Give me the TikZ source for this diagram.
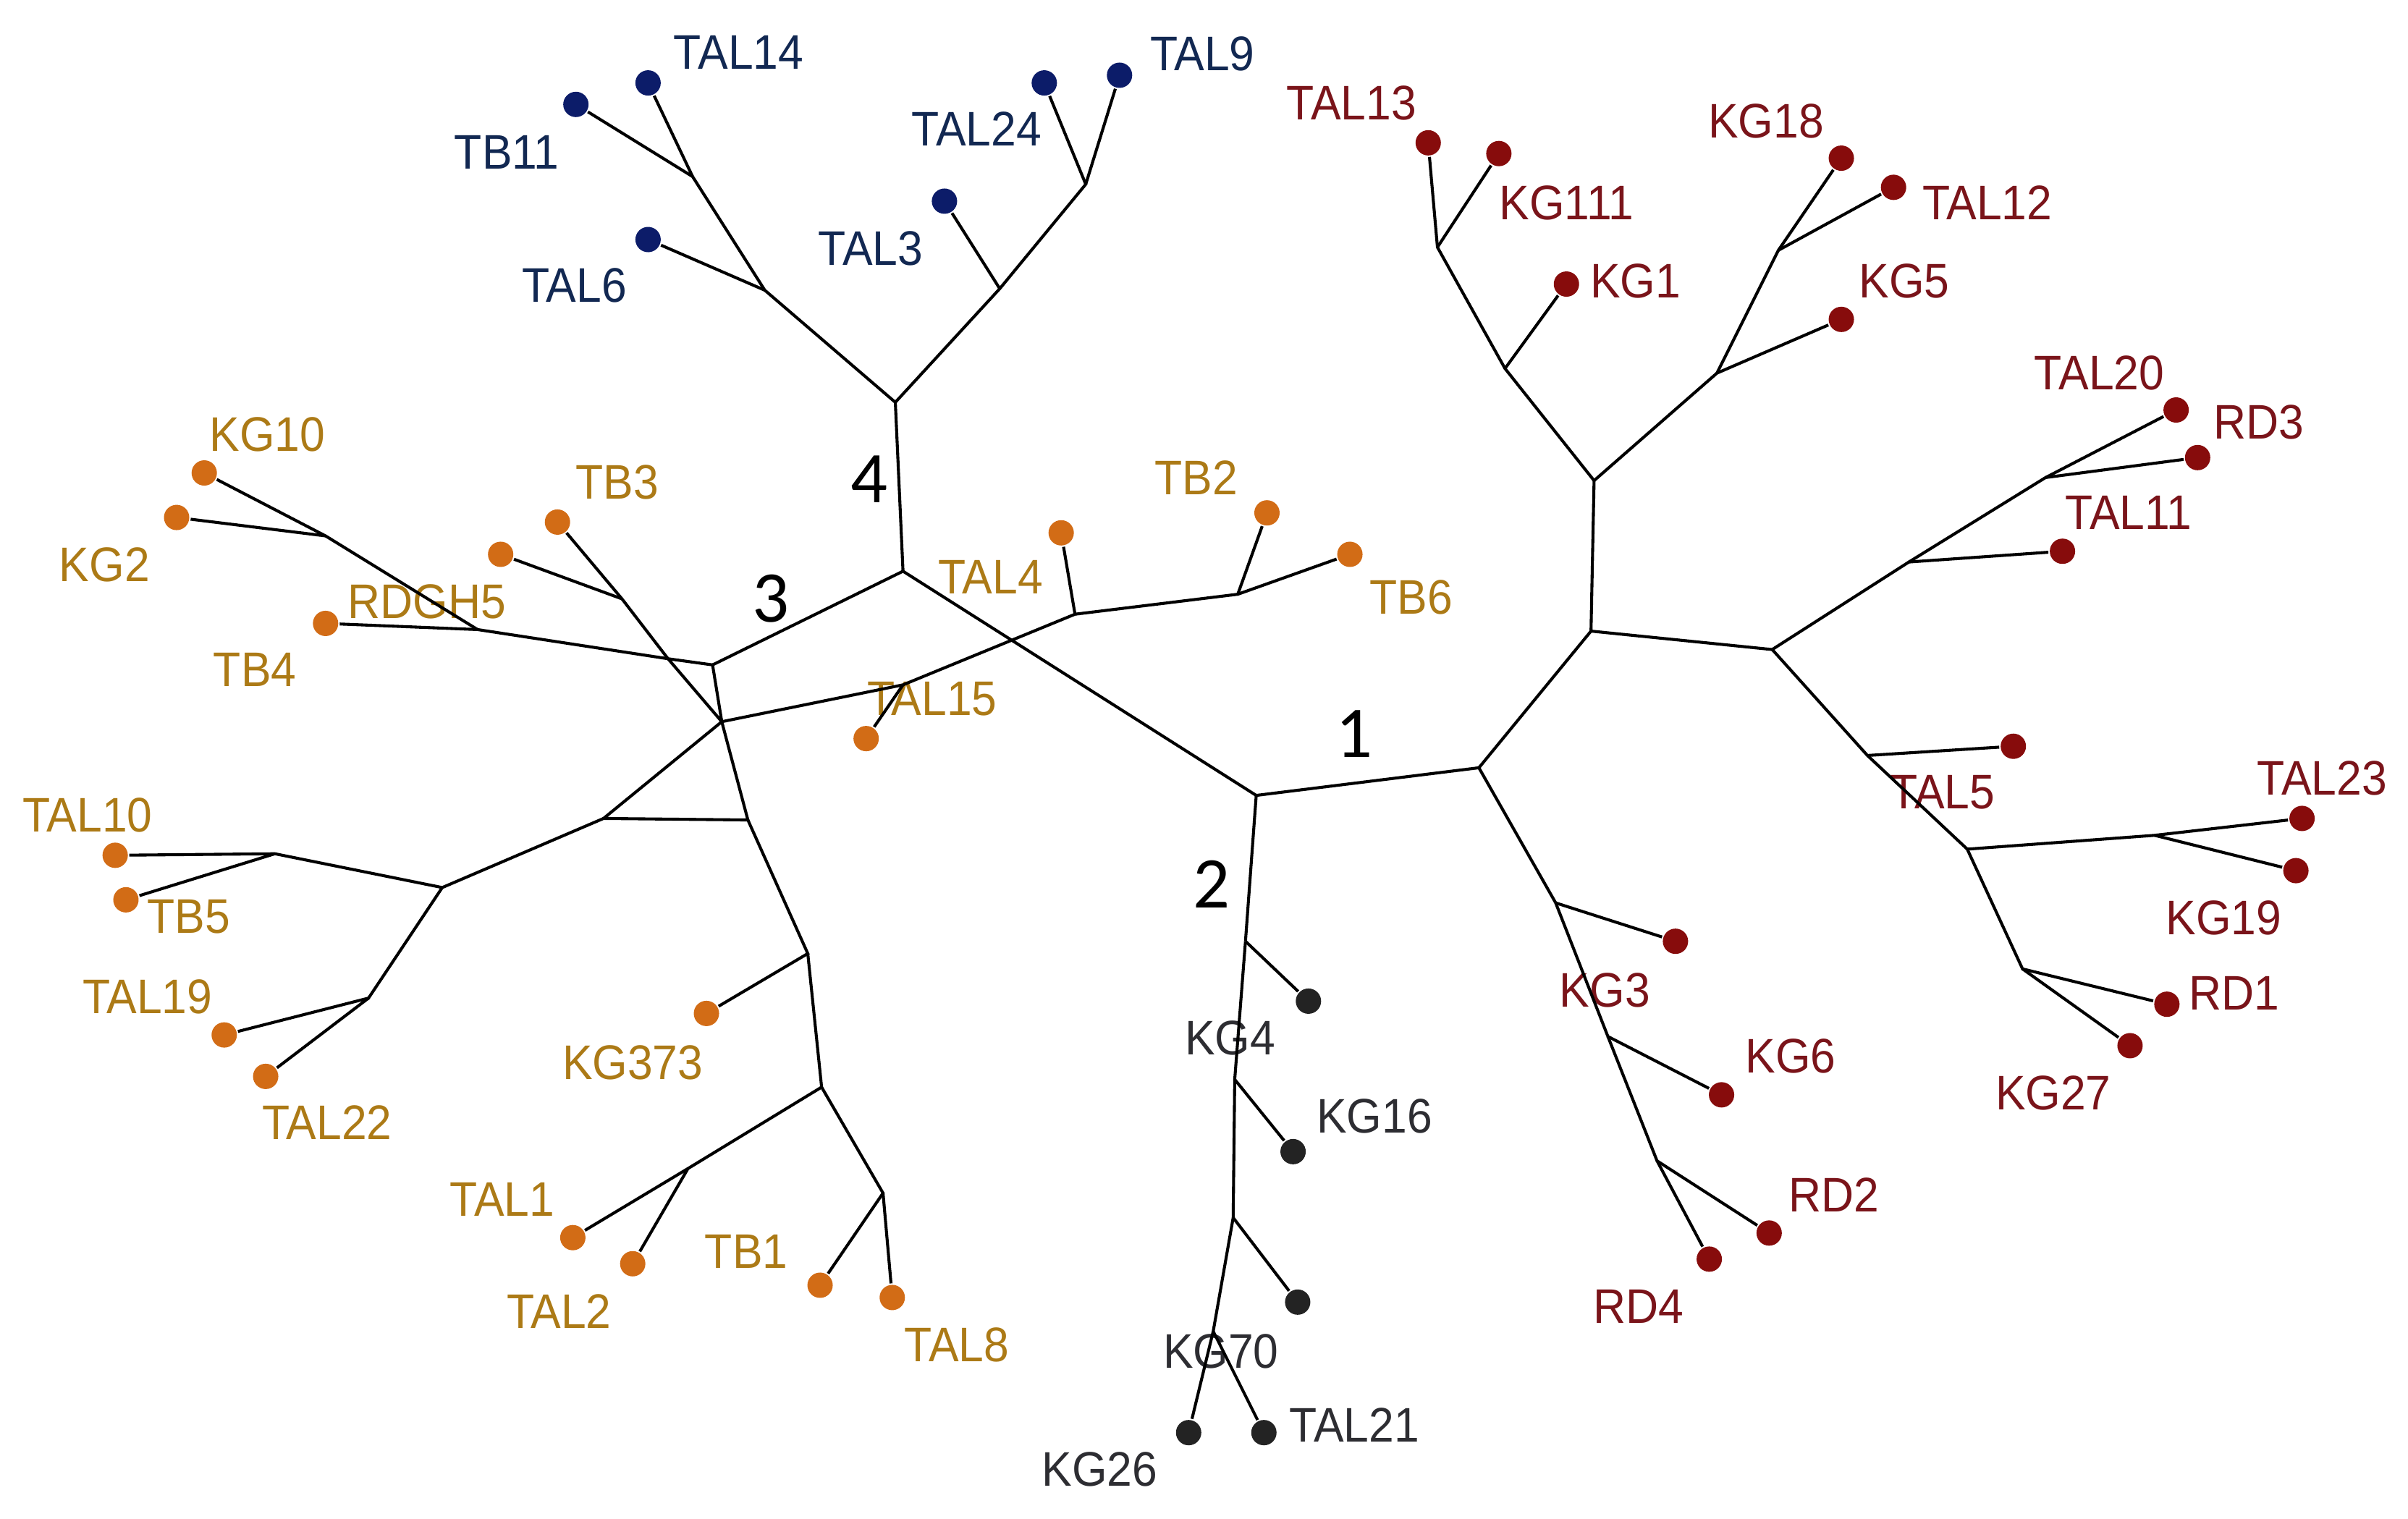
\documentclass[tikz,border=0pt]{standalone}
\usepackage{fontspec}
\setmainfont{Liberation Sans}[FakeStretch=0.93]
\newfontfamily\numfont{Carlito}

\definecolor{bluedot}{RGB}{12,28,105}
\definecolor{bluetxt}{RGB}{18,40,82}
\definecolor{reddot}{RGB}{135,12,12}
\definecolor{redtxt}{RGB}{122,20,26}
\definecolor{orgdot}{RGB}{210,108,22}
\definecolor{orgtxt}{RGB}{172,122,22}
\definecolor{greydot}{RGB}{35,35,35}
\definecolor{greytxt}{RGB}{45,45,50}

\begin{document}
\begin{tikzpicture}[x=0.1mm,y=-0.1mm,line width=0.55pt,
	leaf/.style={circle,inner sep=0pt,minimum size=1.65mm},
	bleaf/.style={leaf,fill=bluedot},
	rleaf/.style={leaf,fill=reddot},
	oleaf/.style={leaf,fill=orgdot},
	gleaf/.style={leaf,fill=greydot},
	lab/.style={inner sep=0pt,font=\fontsize{9}{10}\selectfont},
	blab/.style={lab,text=bluetxt},
	rlab/.style={lab,text=redtxt},
	olab/.style={lab,text=orgtxt},
	glab/.style={lab,text=greytxt},
	num/.style={inner sep=0pt,font=\numfont\fontsize{13.5}{15}\selectfont}]

	%Frame
	\useasboundingbox (0,0) rectangle (1568,989);

	%Backbone
	\coordinate (c1) at (818,518);
	\coordinate (c2) at (963,500);
	\coordinate (c3) at (588,372);
	\coordinate (c4) at (583,262);
	\node[num] (n1) at (882,478) {1};
	\node[num] (n2) at (789,576) {2};
	\node[num] (n3) at (502,390) {3};
	\node[num] (n4) at (566,312) {4};

	%Blue
	\coordinate (b1) at (498,189);
	\coordinate (b2) at (451,115);
	\coordinate (b3) at (651,188);
	\coordinate (b4) at (707,120);
	\node[bleaf] (TAL6) at (422,156) {};
	\node[bleaf] (TB11) at (375,68) {};
	\node[bleaf] (TAL14) at (422,54) {};
	\node[bleaf] (TAL3) at (615,131) {};
	\node[bleaf] (TAL24) at (680,54) {};
	\node[bleaf] (TAL9) at (729,49) {};
	\node[blab] (TAL6lab) at (374,186) {TAL6};
	\node[blab] (TB11lab) at (330,99) {TB11};
	\node[blab] (TAL14lab) at (481,34) {TAL14};
	\node[blab] (TAL3lab) at (567,162) {TAL3};
	\node[blab] (TAL24lab) at (636,84) {TAL24};
	\node[blab] (TAL9lab) at (783,35) {TAL9};

	%Orange
	\coordinate (o1) at (464,433);
	\coordinate (oB) at (435,429);
	\coordinate (oC) at (470,470);
	\coordinate (oD) at (405,390);
	\coordinate (oT) at (311,410);
	\coordinate (oK) at (212,349);
	\coordinate (oG) at (588,446);
	\coordinate (oH) at (700,400);
	\coordinate (oI) at (806,387);
	\coordinate (oE) at (393,533);
	\coordinate (oF) at (487,534);
	\coordinate (oL) at (288,578);
	\coordinate (oM) at (179,556);
	\coordinate (oN) at (240,650);
	\coordinate (oS) at (526,621);
	\coordinate (oP) at (535,708);
	\coordinate (oQ) at (448,761);
	\coordinate (oR) at (575,777);
	\node[oleaf] (KG10) at (133,308) {};
	\node[oleaf] (KG2) at (115,337) {};
	\node[oleaf] (TB4) at (212,406) {};
	\node[oleaf] (RDGH5) at (326,361) {};
	\node[oleaf] (TB3) at (363,340) {};
	\node[oleaf] (TAL15) at (564,481) {};
	\node[oleaf] (TAL4) at (691,347) {};
	\node[oleaf] (TB2) at (825,334) {};
	\node[oleaf] (TB6) at (879,361) {};
	\node[oleaf] (TAL10) at (75,557) {};
	\node[oleaf] (TB5) at (82,586) {};
	\node[oleaf] (TAL19) at (146,674) {};
	\node[oleaf] (TAL22) at (173,701) {};
	\node[oleaf] (KG373) at (460,660) {};
	\node[oleaf] (TAL1) at (373,806) {};
	\node[oleaf] (TAL2) at (412,823) {};
	\node[oleaf] (TB1) at (534,837) {};
	\node[oleaf] (TAL8) at (581,845) {};
	\node[olab] (KG10lab) at (174,283) {KG10};
	\node[olab] (KG2lab) at (68,368) {KG2};
	\node[olab] (TB4lab) at (166,436) {TB4};
	\node[olab] (RDGH5lab) at (278,392) {RDGH5};
	\node[olab] (TB3lab) at (402,314) {TB3};
	\node[olab] (TAL15lab) at (607,455) {TAL15};
	\node[olab] (TAL4lab) at (645,376) {TAL4};
	\node[olab] (TB2lab) at (779,311) {TB2};
	\node[olab] (TB6lab) at (919,389) {TB6};
	\node[olab] (TAL10lab) at (57,531) {TAL10};
	\node[olab] (TB5lab) at (123,597) {TB5};
	\node[olab] (TAL19lab) at (96,649) {TAL19};
	\node[olab] (TAL22lab) at (213,731) {TAL22};
	\node[olab] (KG373lab) at (412,692) {KG373};
	\node[olab] (TAL1lab) at (327,781) {TAL1};
	\node[olab] (TAL2lab) at (364,854) {TAL2};
	\node[olab] (TB1lab) at (486,815) {TB1};
	\node[olab] (TAL8lab) at (623,876) {TAL8};

	%Grey
	\coordinate (g1) at (811,613);
	\coordinate (g2) at (804,703);
	\coordinate (g3) at (803,793);
	\coordinate (g4) at (790,867);
	\node[gleaf] (KG4) at (852,652) {};
	\node[gleaf] (KG16) at (842,750) {};
	\node[gleaf] (KG70) at (845,848) {};
	\node[gleaf] (KG26) at (774,933) {};
	\node[gleaf] (TAL21) at (823,933) {};
	\node[glab] (KG4lab) at (801,676) {KG4};
	\node[glab] (KG16lab) at (895,727) {KG16};
	\node[glab] (KG70lab) at (795,880) {KG70};
	\node[glab] (KG26lab) at (716,957) {KG26};
	\node[glab] (TAL21lab) at (882,928) {TAL21};

	%Red
	\coordinate (r1) at (1036,411);
	\coordinate (r2) at (1038,313);
	\coordinate (r3) at (1154,423);
	\coordinate (r5) at (980,240);
	\coordinate (r6) at (936,161);
	\coordinate (r7) at (1118,243);
	\coordinate (r8) at (1158,163);
	\coordinate (r9) at (1243,366);
	\coordinate (r10) at (1332,311);
	\coordinate (r11) at (1216,492);
	\coordinate (r12) at (1281,553);
	\coordinate (r13) at (1403,544);
	\coordinate (r14) at (1317,631);
	\coordinate (s1) at (1013,588);
	\coordinate (s2) at (1047,675);
	\coordinate (s3) at (1079,756);
	\node[rleaf] (TAL13) at (930,93) {};
	\node[rleaf] (KG111) at (976,100) {};
	\node[rleaf] (KG1) at (1020,185) {};
	\node[rleaf] (KG18) at (1199,103) {};
	\node[rleaf] (TAL12) at (1233,122) {};
	\node[rleaf] (KG5) at (1199,208) {};
	\node[rleaf] (TAL20) at (1417,267) {};
	\node[rleaf] (RD3) at (1431,298) {};
	\node[rleaf] (TAL11) at (1343,359) {};
	\node[rleaf] (TAL5) at (1311,486) {};
	\node[rleaf] (TAL23) at (1499,533) {};
	\node[rleaf] (KG19) at (1495,567) {};
	\node[rleaf] (RD1) at (1411,654) {};
	\node[rleaf] (KG27) at (1387,681) {};
	\node[rleaf] (KG3) at (1091,613) {};
	\node[rleaf] (KG6) at (1121,713) {};
	\node[rleaf] (RD2) at (1152,803) {};
	\node[rleaf] (RD4) at (1113,820) {};
	\node[rlab] (TAL13lab) at (880,67) {TAL13};
	\node[rlab] (KG111lab) at (1020,132) {KG111};
	\node[rlab] (KG1lab) at (1065,183) {KG1};
	\node[rlab] (KG18lab) at (1150,79) {KG18};
	\node[rlab] (TAL12lab) at (1294,132) {TAL12};
	\node[rlab] (KG5lab) at (1240,183) {KG5};
	\node[rlab] (TAL20lab) at (1367,243) {TAL20};
	\node[rlab] (RD3lab) at (1471,275) {RD3};
	\node[rlab] (TAL11lab) at (1386,334) {TAL11};
	\node[rlab] (TAL5lab) at (1265,516) {TAL5};
	\node[rlab] (TAL23lab) at (1512,507) {TAL23};
	\node[rlab] (KG19lab) at (1448,598) {KG19};
	\node[rlab] (RD1lab) at (1455,647) {RD1};
	\node[rlab] (KG27lab) at (1337,712) {KG27};
	\node[rlab] (KG3lab) at (1045,645) {KG3};
	\node[rlab] (KG6lab) at (1166,688) {KG6};
	\node[rlab] (RD2lab) at (1194,778) {RD2};
	\node[rlab] (RD4lab) at (1067,851) {RD4};

	%Edges
	\draw (c1) -- (c2);
	\draw (c1) -- (c3);
	\draw (c1) -- (g1);
	\draw (c3) -- (c4);
	\draw (c3) -- (o1);
	\draw (c2) -- (r1);
	\draw (c2) -- (s1);

	%Blue edges
	\draw (c4) -- (b1) -- (b2) -- (TB11);
	\draw (b1) -- (TAL6);
	\draw (b2) -- (TAL14);
	\draw (c4) -- (b3) -- (b4) -- (TAL24);
	\draw (b3) -- (TAL3);
	\draw (b4) -- (TAL9);

	%Orange edges
	\draw (o1) -- (oB) -- (oC) -- (o1);
	\draw (oB) -- (oD) -- (TB3);
	\draw (oD) -- (RDGH5);
	\draw (oB) -- (oT) -- (TB4);
	\draw (oT) -- (oK) -- (KG10);
	\draw (oK) -- (KG2);
	\draw (oC) -- (oG) -- (oH) -- (oI) -- (TB6);
	\draw (oG) -- (TAL15);
	\draw (oH) -- (TAL4);
	\draw (oI) -- (TB2);
	\draw (oC) -- (oE) -- (oF) -- (oC);
	\draw (oE) -- (oL) -- (oM) -- (TAL10);
	\draw (oM) -- (TB5);
	\draw (oL) -- (oN) -- (TAL19);
	\draw (oN) -- (TAL22);
	\draw (oF) -- (oS) -- (KG373);
	\draw (oS) -- (oP) -- (oQ) -- (TAL1);
	\draw (oQ) -- (TAL2);
	\draw (oP) -- (oR) -- (TB1);
	\draw (oR) -- (TAL8);

	%Grey edges
	\draw (g1) -- (KG4);
	\draw (g1) -- (g2) -- (KG16);
	\draw (g2) -- (g3) -- (KG70);
	\draw (g3) -- (g4) -- (KG26);
	\draw (g4) -- (TAL21);

	%Red edges
	\draw (r1) -- (r2);
	\draw (r1) -- (r3);
	\draw (r2) -- (r5) -- (KG1);
	\draw (r5) -- (r6) -- (TAL13);
	\draw (r6) -- (KG111);
	\draw (r2) -- (r7) -- (KG5);
	\draw (r7) -- (r8) -- (KG18);
	\draw (r8) -- (TAL12);
	\draw (r3) -- (r9) -- (TAL11);
	\draw (r9) -- (r10) -- (TAL20);
	\draw (r10) -- (RD3);
	\draw (r3) -- (r11) -- (TAL5);
	\draw (r11) -- (r12) -- (r13) -- (TAL23);
	\draw (r13) -- (KG19);
	\draw (r12) -- (r14) -- (RD1);
	\draw (r14) -- (KG27);
	\draw (s1) -- (KG3);
	\draw (s1) -- (s2) -- (KG6);
	\draw (s2) -- (s3) -- (RD2);
	\draw (s3) -- (RD4);

\end{tikzpicture}
\end{document}
